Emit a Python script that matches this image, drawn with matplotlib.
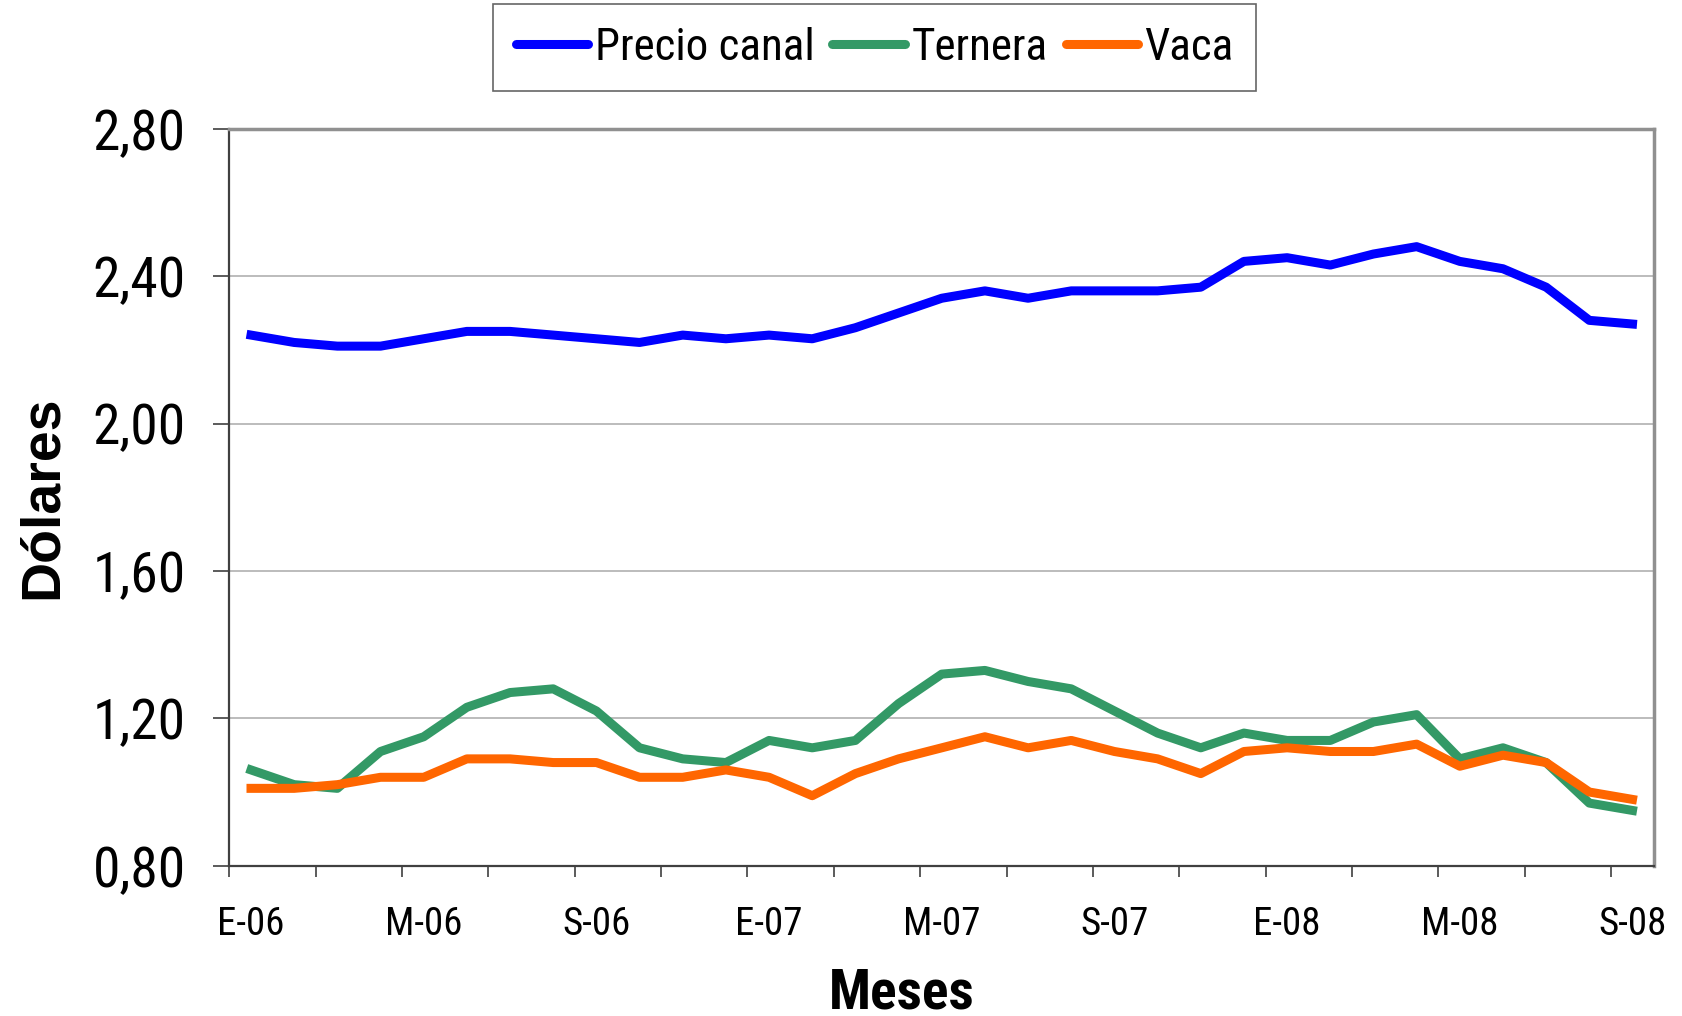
import numpy as np
import matplotlib
matplotlib.use('Agg')
import matplotlib.pyplot as plt

# precios mensuales E-06 .. S-08 (dolares)
meses = ['E-06', 'F-06', 'M-06', 'A-06', 'M-06', 'J-06', 'J-06', 'A-06', 'S-06', 'O-06', 'N-06', 'D-06',
         'E-07', 'F-07', 'M-07', 'A-07', 'M-07', 'J-07', 'J-07', 'A-07', 'S-07', 'O-07', 'N-07', 'D-07',
         'E-08', 'F-08', 'M-08', 'A-08', 'M-08', 'J-08', 'J-08', 'A-08', 'S-08']
precio_canal = [2.24, 2.22, 2.21, 2.21, 2.23, 2.25, 2.25, 2.24, 2.23, 2.22, 2.24, 2.23,
                2.24, 2.23, 2.26, 2.30, 2.34, 2.36, 2.34, 2.36, 2.36, 2.36, 2.37, 2.44,
                2.45, 2.43, 2.46, 2.48, 2.44, 2.42, 2.37, 2.28, 2.27]
ternera = [1.06, 1.02, 1.01, 1.11, 1.15, 1.23, 1.27, 1.28, 1.22, 1.12, 1.09, 1.08,
           1.14, 1.12, 1.14, 1.24, 1.32, 1.33, 1.30, 1.28, 1.22, 1.16, 1.12, 1.16,
           1.14, 1.14, 1.19, 1.21, 1.09, 1.12, 1.08, 0.97, 0.95]
vaca = [1.01, 1.01, 1.02, 1.04, 1.04, 1.09, 1.09, 1.08, 1.08, 1.04, 1.04, 1.06,
        1.04, 0.99, 1.05, 1.09, 1.12, 1.15, 1.12, 1.14, 1.11, 1.09, 1.05, 1.11,
        1.12, 1.11, 1.11, 1.13, 1.07, 1.10, 1.08, 1.00, 0.98]
y_ticks = [0.80, 1.20, 1.60, 2.00, 2.40, 2.80]

narrow = ['Roboto Condensed', 'DejaVu Sans']

fig = plt.figure(figsize=(16.82, 10.16), dpi=100)
ax = fig.add_axes([0.1364, 0.1479, 0.9834 - 0.1364, 0.8733 - 0.1479])

x = np.arange(len(meses))
ax.plot(x, precio_canal, color='#0000FF', lw=6.5, label='Precio canal', zorder=3)
ax.plot(x, ternera, color='#339966', lw=6.5, label='Ternera', zorder=3)
ax.plot(x, vaca, color='#FF6600', lw=6.5, label='Vaca', zorder=3)

ax.set_xlim(-0.5, len(meses) - 0.5)
ax.set_ylim(0.80, 2.80)
ax.set_yticks(y_ticks)
ax.set_yticklabels([f'{v:.2f}'.replace('.', ',') for v in y_ticks], fontsize=40, family=narrow)
ax.yaxis.grid(True, color='#b0b0b0', lw=1.2, zorder=0)
ax.tick_params(axis='y', length=11.5, width=1.2, color='#404040', pad=20)

# tick marks between categories, labels every 4 months
ax.set_xticks(np.arange(-0.5, len(meses) - 1, 2))
ax.set_xticklabels([])
ax.set_xticks(x[::4], minor=True)
ax.set_xticklabels(meses[::4], minor=True, fontsize=28, family=narrow)
ax.tick_params(axis='x', which='major', length=8, width=1.2, color='#404040')
ax.tick_params(axis='x', which='minor', length=0, pad=29)

for s in ['left', 'bottom']:
    ax.spines[s].set_color('#404040')
    ax.spines[s].set_linewidth(1.6)
for s in ['top', 'right']:
    ax.spines[s].set_color('#909090')
    ax.spines[s].set_linewidth(2.5)

ax.set_ylabel('Dólares', fontsize=40, fontweight='bold', family='Liberation Sans', va='center')
ax.yaxis.set_label_coords(-0.131, 0.5)
ax.set_xlabel('Meses', fontsize=40, fontweight='bold', family=narrow, va='center')
ax.xaxis.set_label_coords(0.472, -0.173)

leg = fig.legend(loc='center', bbox_to_anchor=(0.520, 0.953), ncol=3, frameon=True, fancybox=False,
                 prop={'family': narrow, 'size': 32.5}, handlelength=1.6, handletextpad=0.15,
                 columnspacing=0.4, borderpad=0.5, borderaxespad=0)
leg.get_frame().set_edgecolor('#404040')
leg.get_frame().set_linewidth(1.2)
for h in leg.get_lines():
    h.set_linewidth(6.5)
    h.set_solid_capstyle('round')

fig.savefig('out.png', dpi=100, facecolor='w')
plt.close()
